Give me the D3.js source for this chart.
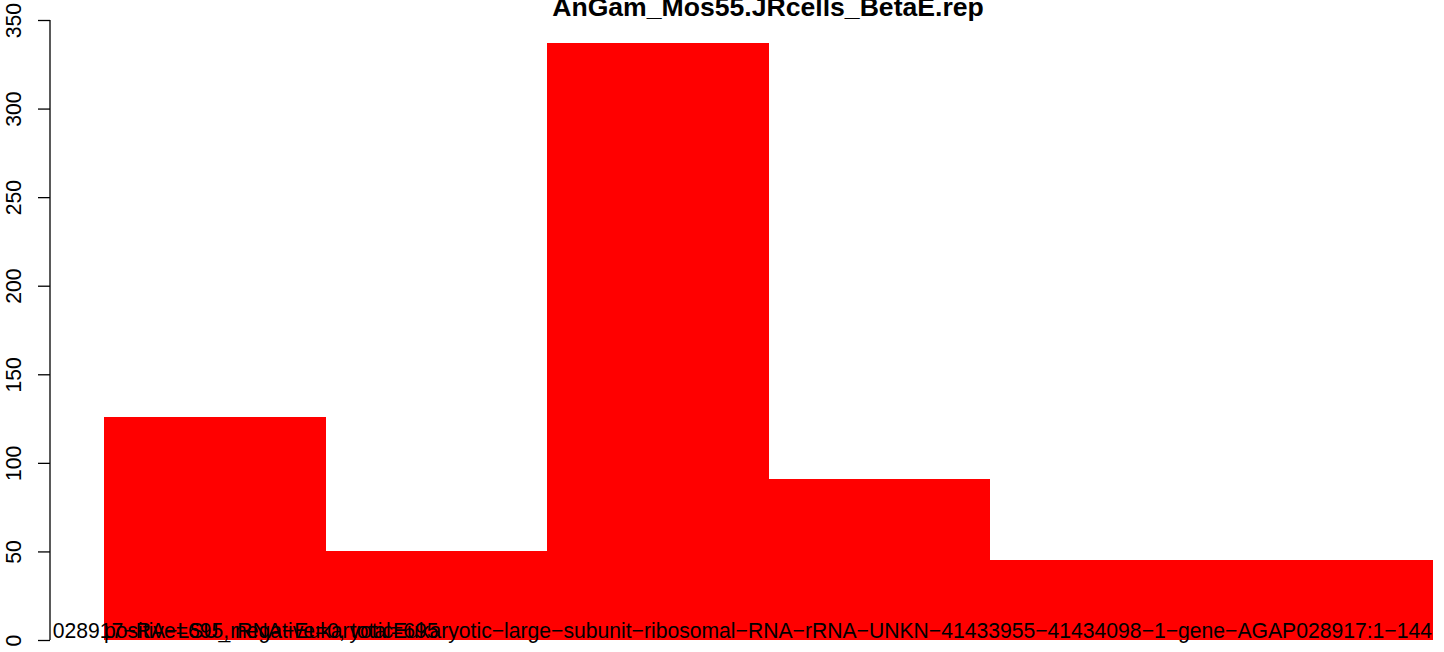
<!DOCTYPE html>
<html><head><meta charset="utf-8">
<script src="https://cdn.jsdelivr.net/npm/d3@7"></script>
<style>
html,body{margin:0;padding:0;background:#fff;}
svg{display:block;}
text{font-family:"Liberation Sans",Arial,Helvetica,sans-serif;}
</style></head>
<body>
<script>
const title = "AnGam_Mos55.JRcells_BetaE.rep";
const categories = ["bin1","bin2","bin3","bin4","bin5","bin6"];
const values = [126, 50, 337, 91, 45, 45];
const yTicks = [0, 50, 100, 150, 200, 250, 300, 350];
const leftLabel = "positive=695, negative=0, total=695";
const rightLabel = "028917\u2212RA\u2212LSU_rRNA\u2212EukaryoticEukaryotic\u2212large\u2212subunit\u2212ribosomal\u2212RNA\u2212rRNA\u2212UNKN\u221241433955\u221241434098\u22121\u2212gene\u2212AGAP028917:1\u2212144";

const W = 1444, H = 652;
const plotLeft = 50, plotRight = 1486;
const fs = 21.15;
const svg = d3.select("body").append("svg").attr("width", W).attr("height", H);

const x = d3.scaleBand().domain(categories).range([104, 1432]).paddingInner(0).paddingOuter(0);
const y = d3.scaleLinear().domain([0, 350]).range([640, 20]);

svg.append("defs").append("clipPath").attr("id","plotclip")
  .append("rect").attr("x", plotLeft).attr("y", 0).attr("width", plotRight - plotLeft).attr("height", H);

svg.append("g").attr("shape-rendering","crispEdges").selectAll("rect").data(values).join("rect")
  .attr("x", (d,i) => x(categories[i]))
  .attr("width", x.bandwidth() + 0.6)
  .attr("y", d => y(d))
  .attr("height", d => y(0) - y(d))
  .attr("fill", "#FF0000");

// y axis
const yAxis = d3.axisLeft(y).tickValues(yTicks).tickSize(12).tickPadding(0).tickFormat(d3.format("d"));
const ga = svg.append("g").attr("transform", `translate(${plotLeft},0)`).call(yAxis);
ga.select(".domain").attr("d", `M0,${y(0)}V${y(350)}`).attr("stroke","#000").attr("stroke-width",1.3);
ga.selectAll(".tick line").attr("stroke","#000").attr("stroke-width",1.3);
ga.selectAll(".tick text")
  .attr("x", null).attr("dy", null)
  .attr("transform", "translate(-29,0) rotate(-90)")
  .attr("text-anchor","middle")
  .attr("font-size", fs)
  .attr("fill","#000")
  .attr("font-family", '"Liberation Sans",Arial,sans-serif');

// labels over bars
const lab = svg.append("g").attr("clip-path","url(#plotclip)");
lab.append("text").attr("x", x(categories[0])).attr("y", 638)
  .attr("font-size", fs).attr("fill","#000").attr("text-anchor","start").text(leftLabel);
lab.append("text").attr("x", x(categories[5]) + x.bandwidth()).attr("y", 638)
  .attr("font-size", fs).attr("fill","#000").attr("text-anchor","end").text(rightLabel);

// title
svg.append("text").attr("x", (plotLeft + plotRight)/2).attr("y", 16)
  .attr("text-anchor","middle").attr("font-weight","bold").attr("font-size", 26.6).attr("fill","#000").text(title);
</script>
</body></html>
